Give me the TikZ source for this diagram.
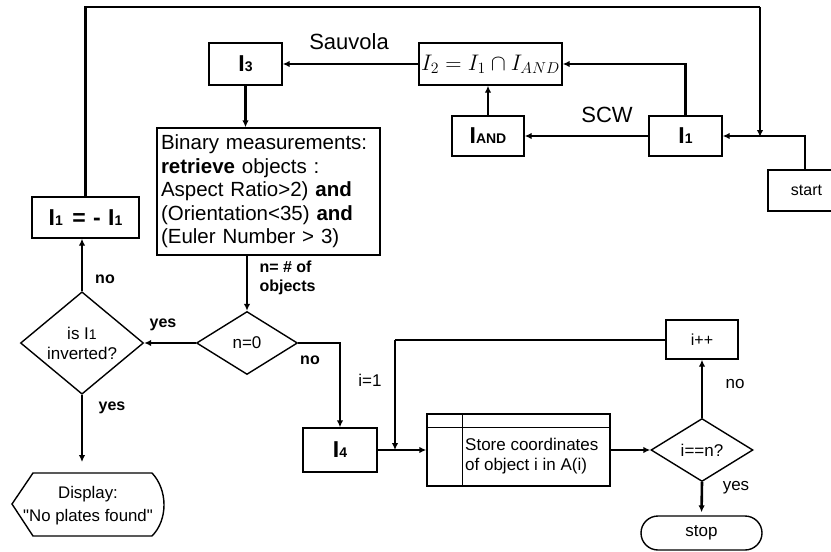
\documentclass[tikz,border=0pt]{standalone}
\usepackage{fix-cm}
\usepackage{fontspec}
\setmainfont{Liberation Sans}
\newfontfamily\plainfont{Liberation Sans}
\usetikzlibrary{shapes.geometric,arrows.meta}
\newcommand\subsm[1]{{\fontsize{14}{15}\selectfont #1}}
\newcommand\dq{{\plainfont "}}
\tikzset{
  box/.style={draw, line width=1.4pt, inner sep=0pt, font=\fontsize{23}{25}\selectfont\bfseries},
  dia/.style={draw, diamond, line width=1.4pt, inner sep=0pt, font=\fontsize{17}{20}\selectfont, align=center},
  conn/.style={line width=2.6pt, -{Latex[length=7pt,width=6.5pt]}},
  connt/.style={line width=2pt, -{Latex[length=7pt,width=6.5pt]}},
  lbl/.style={font=\fontsize{16}{19}\selectfont\bfseries},
  lblr/.style={font=\fontsize{17}{19}\selectfont},
  big/.style={font=\fontsize{22}{24}\selectfont}
}
\begin{document}
\begin{tikzpicture}[x=1pt,y=-1pt]
\useasboundingbox (0,0) rectangle (831,552);
\clip (0,0) rectangle (831,552);
% nodes
\node[box, minimum width=73pt, minimum height=42pt] (I3) at (245.5,64) {I\subsm{\textbf{3}}};
\node[box, minimum width=143pt, minimum height=42pt, font=\fontsize{22.5}{24}\selectfont] (I2) at (490.5,64) {$I_2 = I_1 \cap I_{AND}$};
\node[box, minimum width=72pt, minimum height=40pt] (IAND) at (488,136) {I\subsm{\textbf{AND}}};
\node[box, minimum width=73pt, minimum height=40pt] (I1) at (685.5,136) {I\subsm{\textbf{1}}};
\node[box, minimum width=77pt, minimum height=41pt, font=\fontsize{16}{18}\selectfont] (start) at (806.5,190.5) {start};
\node[box, minimum width=223pt, minimum height=127pt, text width=215pt, align=left, font=\fontsize{20.5}{23.5}\selectfont, inner xsep=4pt] (bin) at (268.5,191.5)
  {Binary measurements:\\\textbf{retrieve} objects :\\Aspect Ratio>2) \textbf{and}\\(Orientation<35) \textbf{and}\\(Euler Number > 3)};
\node[box, minimum width=107pt, minimum height=41pt] (neg) at (85.5,217.5) {I\subsm{\textbf{1}}\hspace{3pt} = \hspace{1pt}- \hspace{1pt}I\subsm{\textbf{1}}};
\node[dia, minimum width=101pt, minimum height=63pt] (n0) at (247,343) {n=0};
\node[dia, minimum width=123pt, minimum height=78pt] (inv) at (82,343) {is I\subsm{1}\\inverted?};
\node[box, minimum width=74pt, minimum height=44pt] (I4) at (340,450) {I\subsm{\textbf{4}}};
\node[box, minimum width=183pt, minimum height=72pt] (store) at (518.5,450) {};
\node[anchor=west, align=left, inner sep=0pt, font=\fontsize{17}{20}\selectfont] (storetxt) at (465,456) {Store coordinates\\of object i in A(i)};
\node[dia, minimum width=102pt, minimum height=63pt] (ieq) at (702,450) {i==n?};
\node[box, minimum width=72pt, minimum height=39pt, font=\fontsize{16}{18}\selectfont] (inc) at (702,339.5) {i++};
\node[draw, line width=1.4pt, rounded corners=17pt, minimum width=121pt, minimum height=34pt, inner sep=0pt, font=\fontsize{17}{19}\selectfont] (stop) at (701.5,533) {stop};
\node[inner sep=0pt, align=center, font=\fontsize{16.8}{23}\selectfont] (disp) at (88,506) {Display:\\\dq No plates found\dq};
% store inner lines
\draw[line width=1.4pt] ([yshift=-14pt]store.north west) -- ([yshift=-14pt]store.north east);
\draw[line width=1.4pt] ([xshift=36pt]store.north west) -- ([xshift=36pt]store.south west);
% display shape
\draw[line width=1.4pt] (12,504) -- (33,473) -- (152,473) .. controls (168,490) and (168,520) .. (152,536) -- (33,536) -- cycle;
% coordinates
\coordinate (lt) at (85.5,7);
\coordinate (rt) at (760,7);
\coordinate (j) at (760,137);
\coordinate (dtop) at (82,462);
\coordinate (fb) at (395,339.5);
\coordinate (fbe) at (395,450);
% connectors
\draw[connt] (start.north -| 805,0) |- (I1.east);
\draw[line width=2.8pt] (neg.north) -- (lt) -- (rt);
\draw[connt] (rt) -- (j);
\draw[connt] (I1.west) -- (IAND.east);
\draw[conn] (I1.north) |- (I2.east);
\draw[conn] (IAND.north) -- (IAND.north |- I2.south);
\draw[conn] (I2.west) -- (I3.east);
\draw[conn] (I3.south) -- (I3.south |- bin.north);
\draw[conn] (bin.south -| n0.north) -- (n0.north);
\draw[conn] (n0.west) -- (inv.east);
\draw[conn] (inv.north) -- (inv.north |- neg.south);
\draw[conn] (inv.south) -- (dtop);
\draw[conn] (n0.east) -| (I4.north);
\draw[connt] (I4.east) -- (store.west);
\draw[line width=2pt] (inc.west) -- (fb);
\draw[connt] (fb) -- (fbe);
\draw[conn] (store.east) -- (ieq.west);
\draw[conn] (ieq.north) -- (inc.south);
\draw[conn, shorten >=3pt] (ieq.south) -- (stop.north);
% labels
\node[big] (sauv) at (349,42) {Sauvola};
\node[big] (scw) at (607,115) {SCW};
\node[lbl, anchor=west, align=left] (nlab) at (256,278) {n= \# of\\objects};
\node[lbl] (yes1) at (163,325) {yes};
\node[lbl] (no1) at (105,279) {no};
\node[lbl] (yes2) at (112,408) {yes};
\node[lbl] (no2) at (310,360) {no};
\node[lblr] (i1) at (370,380) {i=1};
\node[lblr] (no3) at (735,384) {no};
\node[lblr] (yes3) at (736,488) {yes};
\end{tikzpicture}
\end{document}
